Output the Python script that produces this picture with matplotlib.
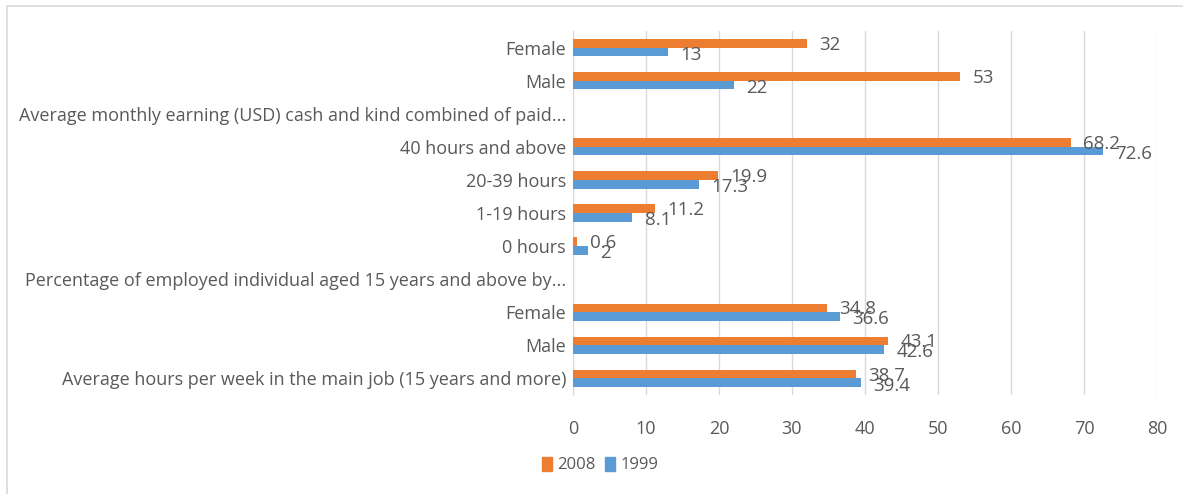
import matplotlib.pyplot as plt
from matplotlib.patches import Rectangle, Patch
import numpy as np

# categories from bottom to top, as drawn
categories = [
    "Average hours per week in the main job (15 years and more)",
    "Male",
    "Female",
    "Percentage of employed individual aged 15 years and above by...",
    "0 hours",
    "1-19 hours",
    "20-39 hours",
    "40 hours and above",
    "Average monthly earning (USD) cash and kind combined of paid...",
    "Male",
    "Female",
]
values_2008 = [38.7, 43.1, 34.8, None, 0.6, 11.2, 19.9, 68.2, None, 53, 32]
values_1999 = [39.4, 42.6, 36.6, None, 2, 8.1, 17.3, 72.6, None, 22, 13]
xticks = [0, 10, 20, 30, 40, 50, 60, 70, 80]

ORANGE = "#ED7D31"
BLUE = "#5B9BD5"
TEXT = "#595959"
GRID = "#D9D9D9"

plt.rcParams['font.family'] = ['Open Sans', 'DejaVu Sans']

fig = plt.figure(figsize=(11.83, 4.94), dpi=100)
ax = fig.add_axes([573/1183, 1-395/494, (1157-573)/1183, (395-31)/494])

y = np.arange(len(categories))
h = 0.26
v08 = [np.nan if v is None else v for v in values_2008]
v99 = [np.nan if v is None else v for v in values_1999]
ax.barh(y + h/2, v08, height=h, color=ORANGE, zorder=3)
ax.barh(y - h/2, v99, height=h, color=BLUE, zorder=3)

for i in range(len(categories)):
    if values_2008[i] is not None:
        ax.annotate(str(values_2008[i]), (values_2008[i], y[i] + h/2), xytext=(9, -1),
                    textcoords="offset points", ha="left", va="center",
                    fontsize=13.5, color=TEXT, zorder=4)
    if values_1999[i] is not None:
        ax.annotate(str(values_1999[i]), (values_1999[i], y[i] - h/2), xytext=(9, -2),
                    textcoords="offset points", ha="left", va="center",
                    fontsize=13.5, color=TEXT, zorder=4)

ax.set_xlim(0, 80)
ax.set_ylim(-0.5, len(categories) - 0.5)
ax.set_xticks(xticks)
ax.set_yticks(y)
ax.set_yticklabels(categories)
ax.tick_params(axis="both", length=0, labelsize=13, labelcolor=TEXT)
ax.tick_params(axis="x", pad=18)
ax.tick_params(axis="y", pad=5)
ax.grid(axis="x", color=GRID, linewidth=1, zorder=0)
for s in ["top", "right", "bottom"]:
    ax.spines[s].set_visible(False)
ax.spines["left"].set_color(GRID)

handles = [Patch(color=ORANGE, label="2008"), Patch(color=BLUE, label="1999")]
fig.legend(handles=handles, loc="center", bbox_to_anchor=(600/1183, 1-465/494),
           ncol=2, frameon=False, fontsize=12, handlelength=0.6, handleheight=0.9,
           handletextpad=0.3, columnspacing=0.6, labelcolor=TEXT)

# outer chart border
fig.patches.append(Rectangle((7/1183, -0.05), 1.1, 1-6/494+0.05, transform=fig.transFigure,
                             fill=False, edgecolor=GRID, linewidth=1.2))

fig.savefig("out.png", dpi=100)
